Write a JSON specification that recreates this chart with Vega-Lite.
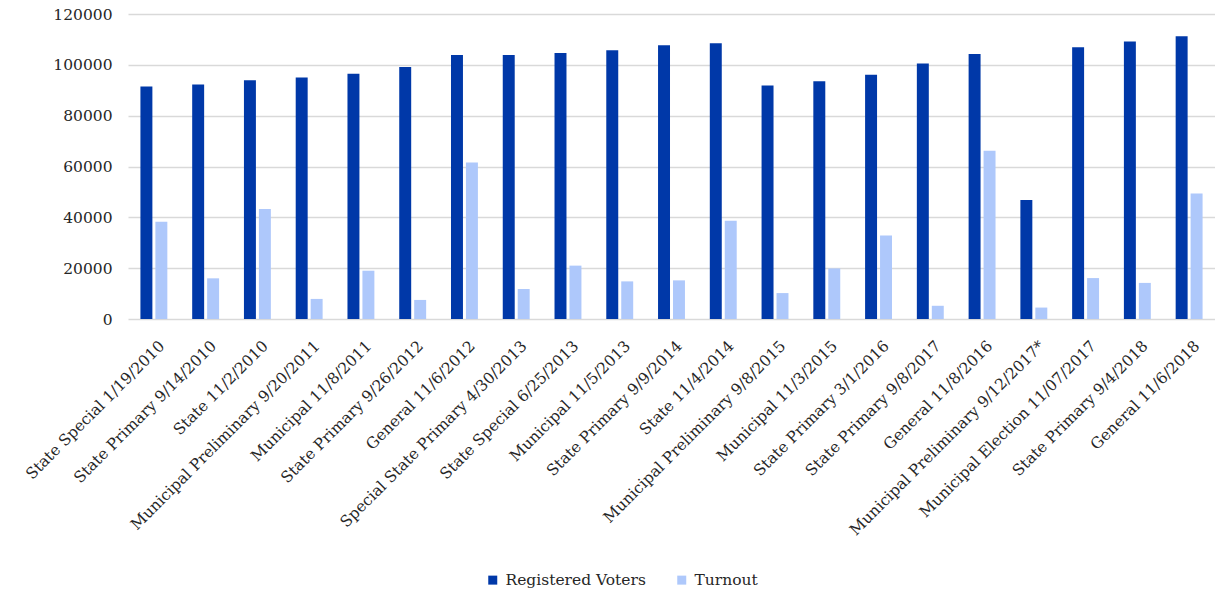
{
  "$schema": "https://vega.github.io/schema/vega-lite/v6.json",
  "autosize": {"type": "none"},
  "width": 1087,
  "height": 305,
  "padding": {"left": 128, "top": 14, "right": 0, "bottom": 274},
  "background": "#ffffff",
  "config": {
    "view": {"stroke": null},
    "font": "DejaVu Serif"
  },
  "data": {
    "values": [
      {"election": "State Special 1/19/2010", "Registered Voters": 91500, "Turnout": 38300},
      {"election": "State Primary 9/14/2010", "Registered Voters": 92300, "Turnout": 16000},
      {"election": "State 11/2/2010", "Registered Voters": 93900, "Turnout": 43300},
      {"election": "Municipal Preliminary 9/20/2011", "Registered Voters": 95000, "Turnout": 7900},
      {"election": "Municipal 11/8/2011", "Registered Voters": 96500, "Turnout": 19000},
      {"election": "State Primary 9/26/2012", "Registered Voters": 99100, "Turnout": 7500},
      {"election": "General 11/6/2012", "Registered Voters": 103900, "Turnout": 61600},
      {"election": "Special State Primary 4/30/2013", "Registered Voters": 103900, "Turnout": 11800},
      {"election": "State Special 6/25/2013", "Registered Voters": 104700, "Turnout": 21000},
      {"election": "Municipal 11/5/2013", "Registered Voters": 105700, "Turnout": 14800},
      {"election": "State Primary 9/9/2014", "Registered Voters": 107700, "Turnout": 15200},
      {"election": "State 11/4/2014", "Registered Voters": 108500, "Turnout": 38700},
      {"election": "Municipal Preliminary 9/8/2015", "Registered Voters": 91900, "Turnout": 10200},
      {"election": "Municipal 11/3/2015", "Registered Voters": 93500, "Turnout": 19900},
      {"election": "State Primary 3/1/2016", "Registered Voters": 96100, "Turnout": 32900},
      {"election": "State Primary 9/8/2017", "Registered Voters": 100500, "Turnout": 5200},
      {"election": "General 11/8/2016", "Registered Voters": 104300, "Turnout": 66200},
      {"election": "Municipal Preliminary 9/12/2017*", "Registered Voters": 46800, "Turnout": 4500},
      {"election": "Municipal Election 11/07/2017", "Registered Voters": 106900, "Turnout": 16100},
      {"election": "State Primary 9/4/2018", "Registered Voters": 109200, "Turnout": 14200},
      {"election": "General 11/6/2018", "Registered Voters": 111200, "Turnout": 49400}
    ]
  },
  "transform": [
    {"fold": ["Registered Voters", "Turnout"], "as": ["series", "value"]}
  ],
  "mark": {"type": "bar"},
  "encoding": {
    "x": {
      "field": "election",
      "type": "nominal",
      "sort": null,
      "scale": {"paddingInner": 0.48, "paddingOuter": 0.24},
      "axis": {
        "title": null,
        "labelAngle": -45,
        "labelAlign": "right",
        "labelBaseline": "top",
        "labelPadding": 19,
        "labelOffset": 3,
        "labelFontSize": 15.5,
        "labelColor": "#262626",
        "labelLimit": 400,
        "ticks": false,
        "domain": false,
        "grid": false
      }
    },
    "xOffset": {
      "field": "series",
      "type": "nominal",
      "sort": ["Registered Voters", "Turnout"],
      "scale": {"paddingInner": 0.2, "paddingOuter": 0}
    },
    "y": {
      "field": "value",
      "type": "quantitative",
      "scale": {"domain": [0, 120000], "nice": false},
      "axis": {
        "title": null,
        "values": [0, 20000, 40000, 60000, 80000, 100000, 120000],
        "format": "d",
        "labelFontSize": 15.5,
        "labelColor": "#262626",
        "labelPadding": 16,
        "ticks": false,
        "domain": false,
        "gridColor": "#d9d9d9",
        "gridWidth": 1.5
      }
    },
    "color": {
      "field": "series",
      "type": "nominal",
      "sort": ["Registered Voters", "Turnout"],
      "scale": {"domain": ["Registered Voters", "Turnout"], "range": ["#0038A8", "#AEC8FB"]},
      "legend": {
        "title": null,
        "orient": "none",
        "direction": "horizontal",
        "legendX": 357,
        "legendY": 558,
        "symbolType": "square",
        "symbolSize": 81,
        "symbolStrokeWidth": 0,
        "labelFontSize": 15.5,
        "labelColor": "#262626",
        "labelOffset": 5,
        "columnPadding": 28
      }
    }
  }
}
